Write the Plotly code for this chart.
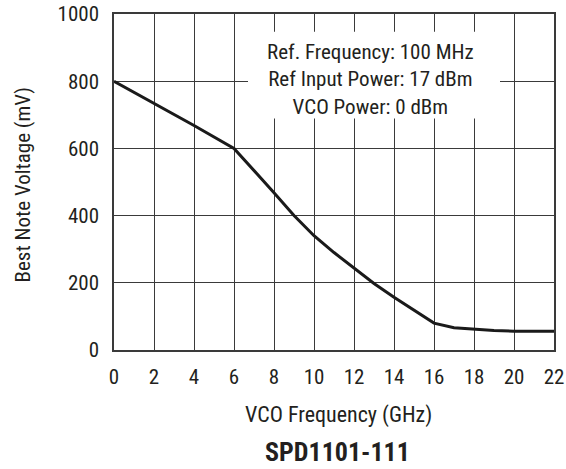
import plotly.graph_objects as go

# Data
freq_ghz = [0, 2, 4, 6, 7, 8, 9, 10, 11, 12, 13, 14, 15, 16, 17, 18, 19, 20, 21, 22]
voltage_mv = [800, 735, 668, 600, 535, 468, 400, 340, 290, 243, 198, 157, 118, 80, 66, 61, 58, 56, 56, 56]

x_ticks = [0, 2, 4, 6, 8, 10, 12, 14, 16, 18, 20, 22]
y_ticks = [0, 200, 400, 600, 800, 1000]

note_lines = ["Ref. Frequency: 100 MHz", "Ref Input Power: 17 dBm", "VCO Power: 0 dBm"]
x_title = "VCO Frequency (GHz)"
y_title = "Best Note Voltage (mV)"
chart_title = "SPD1101-111"

FONT = "Roboto Condensed, Liberation Sans, sans-serif"
TXT = "#231f20"
GRID = "#3a3a3a"

fig = go.Figure()
fig.add_trace(go.Scatter(x=freq_ghz, y=voltage_mv, mode="lines",
                         line=dict(color="#1a1a1a", width=3), showlegend=False,
                         hoverinfo="skip"))

fig.update_layout(
    width=566, height=469,
    margin=dict(l=114, r=12, t=14, b=119),
    paper_bgcolor="white", plot_bgcolor="white",
    font=dict(family=FONT, color=TXT, size=21),
    xaxis=dict(range=[0, 22], tickvals=x_ticks, showgrid=True, gridcolor=GRID, gridwidth=1.2,
               showline=True, linecolor=GRID, linewidth=1.5, mirror=True, ticks="",
               zeroline=False, automargin=False,
               tickfont=dict(size=21, color=TXT, family=FONT),
               ticklabelstandoff=7),
    yaxis=dict(range=[0, 1000], tickvals=y_ticks, showgrid=True, gridcolor=GRID, gridwidth=1.2,
               showline=True, linecolor=GRID, linewidth=1.5, mirror=True, ticks="",
               zeroline=False, automargin=False,
               tickfont=dict(size=21, color=TXT, family=FONT),
               ticklabelstandoff=9),
)

# White box behind the note
fig.add_shape(type="rect", xref="x", yref="y", x0=6.7, x1=19.3, y0=689, y1=947,
              fillcolor="white", line=dict(width=0), layer="above")
fig.add_annotation(x=12.8, y=805, xref="x", yref="y", text="<br>".join(note_lines),
                   showarrow=False, align="center", xanchor="center", yanchor="middle",
                   font=dict(size=21, color=TXT, family=FONT))

fig.add_annotation(x=0.511, y=-0.194, xref="paper", yref="paper", text=x_title,
                   showarrow=False, xanchor="center", yanchor="middle",
                   font=dict(size=22, color=TXT, family=FONT))
fig.add_annotation(x=-0.207, y=0.4925, xref="paper", yref="paper", text=y_title,
                   showarrow=False, xanchor="center", yanchor="middle", textangle=-90,
                   font=dict(size=21, color=TXT, family=FONT))
fig.add_annotation(x=0.509, y=-0.304, xref="paper", yref="paper", text="<b>" + chart_title + "</b>",
                   showarrow=False, xanchor="center", yanchor="middle",
                   font=dict(size=26, color=TXT, family=FONT))

fig.write_html("out.html", config={"displayModeBar": False},
               post_script="document.body.style.margin='0';")
